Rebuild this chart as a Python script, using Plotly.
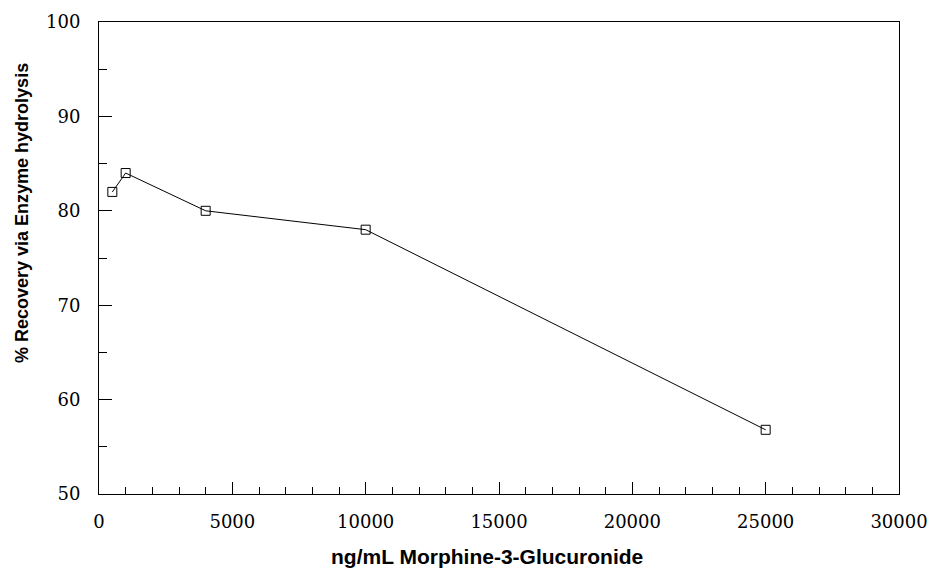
import plotly.graph_objects as go

concentration = [500, 1000, 4000, 10000, 25000]
recovery = [82, 84, 80, 78, 56.8]

x_ticks = [0, 5000, 10000, 15000, 20000, 25000, 30000]
y_ticks = [50, 60, 70, 80, 90, 100]

x_title = "ng/mL Morphine-3-Glucuronide"
y_title = "% Recovery via Enzyme hydrolysis"

fig = go.Figure()
fig.add_trace(go.Scatter(
    x=concentration, y=recovery, mode="lines+markers",
    line=dict(color="black", width=1),
    marker=dict(symbol="square-open", size=9, color="black", line=dict(width=1)),
    showlegend=False, cliponaxis=False,
))

tick_font = dict(family="DejaVu Serif", size=18, color="black")

fig.update_layout(
    width=931, height=571,
    margin=dict(l=99, r=32, t=22, b=77),
    paper_bgcolor="white", plot_bgcolor="white",
    xaxis=dict(
        range=[0, 30000], tickvals=x_ticks, ticktext=[str(v) for v in x_ticks],
        ticks="inside", ticklen=12, tickwidth=1, tickcolor="black",
        minor=dict(ticks="inside", ticklen=7, dtick=1000, tickcolor="black", tickwidth=1),
        showline=True, linecolor="black", linewidth=1, mirror=True,
        showgrid=False, zeroline=False, tickfont=tick_font,
        automargin=False, ticklabelstandoff=11,
    ),
    yaxis=dict(
        range=[50, 100], tickvals=y_ticks, ticktext=[str(v) for v in y_ticks],
        ticks="inside", ticklen=13, tickwidth=1, tickcolor="black",
        minor=dict(ticks="inside", ticklen=8, dtick=5, tickcolor="black", tickwidth=1),
        showline=True, linecolor="black", linewidth=1, mirror=True,
        showgrid=False, zeroline=False, tickfont=tick_font,
        automargin=False, ticklabelstandoff=14,
    ),
    annotations=[
        dict(text="<b>" + x_title + "</b>", xref="paper", yref="paper",
             x=(487 - 99) / 800, y=0, yshift=-76, xanchor="center", yanchor="bottom",
             showarrow=False, font=dict(family="Liberation Sans", size=21, color="black")),
        dict(text="<b>" + y_title + "</b>", xref="paper", yref="paper", textangle=-90,
             x=0, xshift=-77, y=(494 - 213) / 472, xanchor="center", yanchor="middle",
             showarrow=False, font=dict(family="Liberation Sans", size=18, color="black")),
    ],
)

fig.write_html(
    "out.html",
    config={"displayModeBar": False},
    post_script="document.body.style.margin='0';document.body.style.overflow='hidden';",
)
